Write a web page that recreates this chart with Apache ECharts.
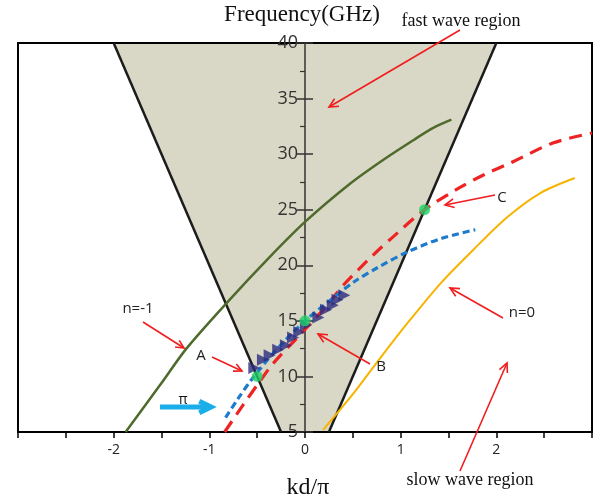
<!DOCTYPE html>
<html>
<head>
<meta charset="utf-8">
<script src="https://cdn.jsdelivr.net/npm/echarts@6/dist/echarts.min.js"></script>
<style>
  html, body { margin: 0; padding: 0; background: #ffffff; }
  #chart { width: 597px; height: 504px; }
</style>
</head>
<body>
<div id="chart"></div>
<script>
// Light lines f = 20|kd/pi| bounding the fast-wave region
const lightLineLeft = [[-2, 40], [-0.25, 5]];
const lightLineRight = [[0.25, 5], [2, 40]];
const fastRegion = [[-2, 40], [2, 40], [0.25, 5], [-0.25, 5]];

// Space harmonic n = -1
const harmonicNeg1 = [[-1.875, 5], [-1.5, 9.4], [-1.24, 12.5], [-0.82, 16.6], [-0.385, 20.6],
  [0, 23.9], [0.48, 27.4], [0.82, 29.5], [1.14, 31.3], [1.35, 32.4], [1.53, 33.1]];

// Space harmonic n = 0
const harmonic0 = [[0.19, 5.2], [0.5, 8.4], [0.79, 11.7], [1.1, 15.1], [1.42, 18.4],
  [1.76, 21.4], [2.11, 24.3], [2.46, 26.5], [2.82, 27.85]];

// Dispersion curves (dashed)
const dispersionRed = [[-0.84, 5], [-0.65, 7.4], [-0.46, 9.7], [-0.33, 11.2], [-0.09, 13.4],
  [0.2, 16.1], [0.4, 18.2], [0.71, 20.9], [0.9, 22.4], [1.25, 25], [1.62, 27.0],
  [1.86, 28.1], [2.17, 29.3], [2.59, 31.0], [3, 31.9]];
const dispersionBlue = [[-0.83, 6.3], [-0.7, 8.0], [-0.56, 9.7], [-0.3, 12.4], [0, 15],
  [0.3, 17.1], [0.51, 18.5], [0.76, 19.8], [1.07, 21.2], [1.42, 22.4], [1.78, 23.2]];

// Simulated points
const simulated = [[-0.53, 10.75], [-0.44, 11.5], [-0.37, 11.9], [-0.28, 12.4], [-0.2, 12.8],
  [-0.125, 13.5], [-0.06, 14.0], [0.01, 14.6], [0.14, 15.3], [0.22, 16.0], [0.29, 16.4],
  [0.34, 16.9], [0.41, 17.3]];

// Operating points A, B, C
const keyPoints = [[-0.5, 10], [0, 15], [1.25, 25]];

const xTicks = [-2, -1, 0, 1, 2];

const chart = echarts.init(document.getElementById('chart'));

// Plot box
const GRID = { left: 18, top: 43, width: 574, height: 389 };
const X_MIN = -3, X_MAX = 3;
// Shift of the frequency axis from the left edge to kd/pi = 0
const yAxisShift = -GRID.width * (0 - X_MIN) / (X_MAX - X_MIN);

const RED = '#f01e1e';
function arrow(x1, y1, x2, y2, color, width, head) {
  const ang = Math.atan2(y2 - y1, x2 - x1);
  const a = Math.PI / 7;
  const p1 = [x2 - head * Math.cos(ang - a), y2 - head * Math.sin(ang - a)];
  const p2 = [x2 - head * Math.cos(ang + a), y2 - head * Math.sin(ang + a)];
  return [
    { type: 'line', silent: true, z: 100, shape: { x1, y1, x2, y2 },
      style: { stroke: color, lineWidth: width } },
    { type: 'polyline', silent: true, z: 100, shape: { points: [p1, [x2, y2], p2] },
      style: { stroke: color, lineWidth: width, fill: null } }
  ];
}
function label(text, x, y, font, color) {
  return { type: 'text', silent: true, z: 100, x, y,
    style: { text, font, fill: color || '#222', textAlign: 'center', textVerticalAlign: 'middle' } };
}

const sans = '"Open Sans", "Liberation Sans", sans-serif';
const serif = '"Liberation Serif", "DejaVu Serif", serif';

const graphics = [].concat(
  label('Frequency(GHz)', 302, 15, '23px ' + serif, '#111'),
  label('kd/\u03c0', 308, 488, '24px ' + serif, '#111'),
  label('fast wave region', 461, 21, '18px ' + serif, '#111'),
  arrow(460, 30, 329, 107, RED, 1.6, 10),
  label('n=-1', 138, 309, '15px ' + sans),
  arrow(143, 322, 184, 348, RED, 1.6, 9),
  label('A', 201, 356, '15px ' + sans),
  arrow(212, 357, 242, 371, RED, 1.6, 9),
  label('B', 381, 367, '15px ' + sans),
  arrow(370, 364, 318, 334, RED, 1.6, 10),
  label('C', 502, 198, '15px ' + sans),
  arrow(495, 195, 445, 205, RED, 1.6, 10),
  label('n=0', 522, 313, '15px ' + sans),
  arrow(503, 318, 450, 288, RED, 1.6, 10),
  label('slow wave region', 470, 480, '18px ' + serif, '#111'),
  arrow(460, 471, 507, 363, RED, 1.6, 10),
  arrow(160, 407, 211, 407, '#19aee8', 5, 13),
  label('\u03c0', 183, 400, '14px ' + sans, '#111')
);

function curve(data, color, width, dash, smooth) {
  return {
    type: 'line', data, showSymbol: false, symbol: 'none', smooth: smooth,
    lineStyle: { color, width, type: dash || 'solid', cap: 'butt' },
    itemStyle: { color }, z: 3
  };
}

chart.setOption({
  animation: false,
  backgroundColor: '#ffffff',
  grid: Object.assign({ show: true, borderColor: '#000', borderWidth: 2,
    backgroundColor: 'transparent', containLabel: false, outerBoundsMode: 'none' }, GRID),
  xAxis: {
    type: 'value', min: X_MIN, max: X_MAX, interval: 0.5,
    axisLine: { onZero: false, lineStyle: { color: '#000', width: 2 } },
    axisTick: { show: true, length: 6, lineStyle: { color: '#000', width: 1.5 } },
    splitLine: { show: false },
    axisLabel: {
      margin: 11, color: '#222', fontSize: 14, fontFamily: sans,
      formatter: v => xTicks.indexOf(Math.round(v * 100) / 100) >= 0 ? String(v) : ''
    }
  },
  yAxis: [{
    type: 'value', min: 5, max: 40, interval: 5, position: 'left', offset: yAxisShift,
    axisLine: { onZero: false, lineStyle: { color: '#333', width: 1.5 } },
    axisTick: { show: true, length: 8, lineStyle: { color: '#333', width: 1.5 } },
    minorTick: { show: true, splitNumber: 2, length: 5, lineStyle: { color: '#333', width: 1.2 } },
    splitLine: { show: false },
    axisLabel: { margin: 7, color: '#333', fontSize: 18, fontFamily: sans }
  }, {
    type: 'value', min: 5, max: 40, interval: 5, position: 'left', offset: yAxisShift,
    axisLine: { show: false, onZero: false },
    axisTick: { show: true, inside: true, length: 8, lineStyle: { color: '#333', width: 1.5 } },
    splitLine: { show: false },
    axisLabel: { show: false }
  }],
  series: [
    {
      type: 'custom', data: fastRegion, z: -1, silent: true,
      renderItem: function (params, api) {
        if (params.dataIndex !== 0) return;
        const pts = fastRegion.map(p => api.coord(p));
        return { type: 'polygon', shape: { points: pts }, style: { fill: '#d9d7c5' } };
      }
    },
    curve(lightLineLeft, '#1c1c1c', 2.5),
    curve(lightLineRight, '#1c1c1c', 2.5),
    curve(harmonicNeg1, '#4e6a2c', 2.5, 'solid', 0.3),
    curve(harmonic0, '#f6b400', 2, 'solid', 0.3),
    curve(dispersionRed, '#ee2424', 3.2, [13, 8], 0.3),
    curve(dispersionBlue, '#1e7bcc', 3.2, [7, 4], 0.3),
    {
      type: 'scatter', data: simulated, symbol: 'triangle', symbolRotate: -90, symbolSize: 12,
      itemStyle: { color: '#2b2c7e' }, z: 4
    },
    {
      type: 'scatter', data: keyPoints, symbol: 'circle', symbolSize: 11,
      itemStyle: { color: '#1fcf68' }, z: 5
    }
  ],
  graphic: graphics
});
</script>
</body>
</html>
